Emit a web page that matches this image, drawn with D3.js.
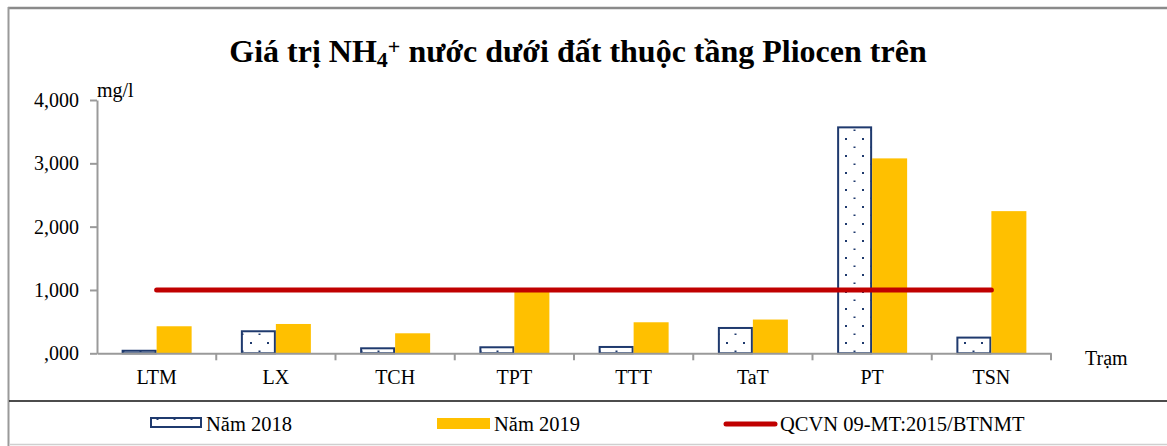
<!DOCTYPE html>
<html>
<head>
<meta charset="utf-8">
<script src="https://cdn.jsdelivr.net/npm/d3@7"></script>
<style>
  html, body { margin: 0; padding: 0; background: #fff; }
  svg { display: block; }
  text { font-family: "Liberation Serif", "Times New Roman", serif; fill: #000; }
</style>
</head>
<body>
<svg id="chart" width="1167" height="446"></svg>
<script>
// Monitoring stations along the x axis
const stations = ["LTM", "LX", "TCH", "TPT", "TTT", "TaT", "PT", "TSN"];
// NH4+ concentration (mg/l) per station
const values2018 = [40, 348, 79, 95, 100, 400, 3568, 248];
const values2019 = [427, 463, 316, 975, 490, 533, 3078, 2245];
// Regulatory limit QCVN 09-MT:2015/BTNMT
const limitValue = 1000;
// Y axis ticks and their printed labels
const yTicks = [0, 1000, 2000, 3000, 4000];
const yTickLabels = [",000", "1,000", "2,000", "3,000", "4,000"];
const seriesNames = ["Năm 2018", "Năm 2019", "QCVN 09-MT:2015/BTNMT"];

const FONT = "Liberation Serif, Times New Roman, serif";
const svg = d3.select("#chart");
const navy = "#1F3A6E", gold = "#FFC000", red = "#C00000", axisGrey = "#9a9a9a";

// dotted fill used for the 2018 bars
const defs = svg.append("defs");
const pat = defs.append("pattern")
  .attr("id", "dots").attr("patternUnits", "userSpaceOnUse")
  .attr("width", 17).attr("height", 17).attr("x", 3).attr("y", 2);
pat.append("rect").attr("width", 17).attr("height", 17).attr("fill", "#fff");
pat.append("rect").attr("x", 9).attr("y", 0).attr("width", 2).attr("height", 2).attr("fill", navy);
pat.append("rect").attr("x", 0.5).attr("y", 8.5).attr("width", 2).attr("height", 1.5).attr("fill", navy);

// frame
svg.append("line").attr("x1", 8).attr("x2", 1167).attr("y1", 8).attr("y2", 8)
  .attr("stroke", "#8a8a8a").attr("stroke-width", 2.5);
svg.append("line").attr("x1", 8.5).attr("x2", 8.5).attr("y1", 7).attr("y2", 446)
  .attr("stroke", "#9a9a9a").attr("stroke-width", 2);
svg.append("line").attr("x1", 9).attr("x2", 1167).attr("y1", 401).attr("y2", 401)
  .attr("stroke", "#111").attr("stroke-width", 1.5);
svg.append("line").attr("x1", 9).attr("x2", 1167).attr("y1", 444.5).attr("y2", 444.5)
  .attr("stroke", "#cfcfcf").attr("stroke-width", 1.5);

// title
const title = svg.append("text").attr("x", 578).attr("y", 62)
  .attr("text-anchor", "middle").attr("font-weight", "bold").attr("font-size", 32)
  .attr("font-family", FONT);
title.append("tspan").text("Giá trị NH");
title.append("tspan").attr("font-size", 22).attr("dy", 5).text("4");
title.append("tspan").attr("font-size", 22).attr("dy", -13).text("+");
title.append("tspan").attr("dy", 8).text(" nước dưới đất thuộc tầng Pliocen trên");

// scales
const x0 = 97, x1 = 1051, yTop = 100, yBot = 353.3;
const x = d3.scaleBand().domain(stations).range([x0, x1]).paddingInner(0).paddingOuter(0);
const y = d3.scaleLinear().domain([0, 4000]).range([yBot, yTop]);
const inner = d3.scaleBand().domain(["2018", "2019"]).range([0, 70]);
const groupOffset = (x.bandwidth() - 70) / 2;

// y axis
const yAxis = svg.append("g").attr("transform", `translate(${x0},0)`)
  .call(d3.axisLeft(y).tickValues(yTicks).tickFormat((d, i) => yTickLabels[i]).tickSize(7).tickSizeOuter(0));
yAxis.attr("font-family", FONT);
yAxis.select(".domain").attr("stroke", axisGrey).attr("stroke-width", 2);
yAxis.selectAll(".tick line").attr("stroke", axisGrey).attr("stroke-width", 2);
yAxis.selectAll(".tick text").attr("font-size", 20).attr("x", -18).attr("dy", "0.32em")
  .attr("font-family", FONT).attr("fill", "#000");

svg.append("text").attr("x", 97).attr("y", 97).attr("font-size", 20)
  .attr("font-family", FONT).text("mg/l");

// bars 2018
svg.append("g").selectAll("rect").data(stations).join("rect")
  .attr("x", d => x(d) + groupOffset + inner("2018") + 1)
  .attr("width", inner.bandwidth() - 2)
  .attr("y", (d, i) => y(values2018[i]))
  .attr("height", (d, i) => yBot - y(values2018[i]))
  .attr("fill", "url(#dots)").attr("stroke", navy).attr("stroke-width", 2);

// bars 2019
svg.append("g").selectAll("rect").data(stations).join("rect")
  .attr("x", d => x(d) + groupOffset + inner("2019"))
  .attr("width", inner.bandwidth())
  .attr("y", (d, i) => y(values2019[i]))
  .attr("height", (d, i) => yBot - y(values2019[i]))
  .attr("fill", gold);

// x axis
const xAxis = svg.append("g").attr("transform", `translate(0,${yBot})`)
  .call(d3.axisBottom(x).tickSize(0).tickSizeOuter(0));
xAxis.attr("font-family", FONT);
xAxis.select(".domain").attr("stroke", axisGrey).attr("stroke-width", 2);
xAxis.selectAll(".tick text").attr("font-size", 20).attr("dy", 0).attr("y", 31)
  .attr("font-family", FONT).attr("fill", "#000");
// separators between stations
svg.append("g").selectAll("line").data(stations.slice(1).concat(["__end"])).join("line")
  .attr("x1", d => d === "__end" ? x1 : x(d)).attr("x2", d => d === "__end" ? x1 : x(d))
  .attr("y1", yBot).attr("y2", yBot + 7)
  .attr("stroke", axisGrey).attr("stroke-width", 2);

svg.append("text").attr("x", 1085).attr("y", 365).attr("font-size", 20)
  .attr("font-family", FONT).text("Trạm");

// limit line
const limitPts = stations.map(s => [x(s) + x.bandwidth() / 2, y(limitValue)]);
svg.append("path").attr("d", d3.line()(limitPts))
  .attr("fill", "none").attr("stroke", red).attr("stroke-width", 5).attr("stroke-linecap", "round");

// legend
const lg = svg.append("g").attr("font-family", FONT).attr("font-size", 20.5);
lg.append("rect").attr("x", 151).attr("y", 418).attr("width", 50).attr("height", 9)
  .attr("fill", "url(#dots)").attr("stroke", navy).attr("stroke-width", 2);
lg.append("text").attr("x", 206).attr("y", 431).text(seriesNames[0]);
lg.append("rect").attr("x", 437).attr("y", 418).attr("width", 53).attr("height", 11).attr("fill", gold);
lg.append("text").attr("x", 494).attr("y", 431).text(seriesNames[1]);
lg.append("line").attr("x1", 726).attr("x2", 775).attr("y1", 424).attr("y2", 424)
  .attr("stroke", red).attr("stroke-width", 5).attr("stroke-linecap", "round");
lg.append("text").attr("x", 780).attr("y", 431).text(seriesNames[2]);
</script>
</body>
</html>
